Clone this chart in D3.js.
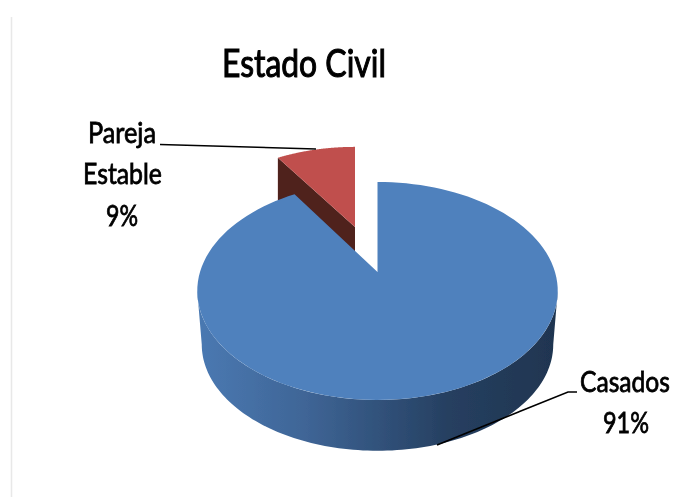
<!DOCTYPE html>
<html>
<head>
<meta charset="utf-8">
<script src="https://cdn.jsdelivr.net/npm/d3@7"></script>
<style>
    html, body { margin: 0; padding: 0; background: #fff; }
    svg { display: block; }
    text { font-family: Lato, "Liberation Sans", sans-serif; fill: #000; }
</style>
</head>
<body>
<div id="chart-container"></div>
<script>
const categories = ["Casados", "Pareja Estable"];
const values = [91, 9];
const percentLabels = ["91%", "9%"];
const colors = ["#4f81bd", "#c0504d"];
const sideColors = ["#1f3550", "#4f201e"];

const svgWidth = 674;
const svgHeight = 497;

const svg = d3.select("#chart-container")
    .append("svg")
    .attr("width", svgWidth)
    .attr("height", svgHeight);

const defs = svg.append("defs");

// the picture is a soft, scaled up screenshot
defs.append("filter").attr("id", "soft")
    .append("feGaussianBlur").attr("stdDeviation", 0.45);

const wallGradient = defs.append("linearGradient")
    .attr("id", "wall")
    .attr("gradientUnits", "userSpaceOnUse")
    .attr("x1", 198).attr("x2", 558).attr("y1", 0).attr("y2", 0);
[
    [0, "#4a79b2"],
    [0.3, "#3f6596"],
    [0.5, "#31527b"],
    [0.7, "#263f60"],
    [1, "#1f3550"]
].forEach(s => wallGradient.append("stop").attr("offset", s[0]).attr("stop-color", s[1]));

// pie angles, clockwise from the top
const pie = d3.pie().sort(null).value(d => d).startAngle(0).endAngle(2 * Math.PI);
const slices = pie(values);

// perspective: the disc is seen from above, its centre is not the middle of the ellipse
const tilt = 0.174;
const radiusX = 177.5;
const radiusY = 105.7;

function project(angle, frame) {
    const w = 1 + tilt * Math.cos(angle);
    return [
        frame.x + frame.sx * radiusX * Math.sin(angle) / w,
        frame.y - frame.sy * radiusY * Math.cos(angle) / w
    ];
}

function rim(a0, a1, frame) {
    const n = 120;
    return d3.range(n + 1).map(i => project(a0 + (a1 - a0) * i / n, frame));
}

const line = d3.line();

const blueTop = { x: 377.5, y: 272, sx: 1, sy: 1 };
const blueBottom = { x: 377.5, y: 326, sx: 0.975, sy: 0.975 };
const redTop = { x: 355, y: 227, sx: 0.93, sy: 0.89 };
const redBottom = { x: 355, y: 277, sx: 0.93, sy: 0.89 };

const chart = svg.append("g").attr("filter", "url(#soft)");

// faint edge of the original slide
chart.append("line")
    .attr("x1", 11.5).attr("x2", 11.5)
    .attr("y1", 17).attr("y2", svgHeight)
    .attr("stroke", "#e8e8e8")
    .attr("stroke-width", 1.5);

// pulled out slice: cut face first, then its top
const red = slices[1];
const redCorner = project(red.startAngle, redTop);
const redCornerLow = project(red.startAngle, redBottom);
chart.append("path")
    .attr("d", line([redCorner, [redTop.x, redTop.y], [redBottom.x, redBottom.y], redCornerLow]) + "Z")
    .attr("fill", sideColors[1]);
chart.append("path")
    .attr("d", line(rim(red.startAngle, red.endAngle, redTop).concat([[redTop.x, redTop.y]])) + "Z")
    .attr("fill", colors[1]);

// big slice: front wall between the two outermost rim points, then top
const wallStart = Math.acos(-tilt);
const wallEnd = 2 * Math.PI - wallStart;
const front = rim(wallStart, wallEnd, blueTop);
const frontLow = rim(wallStart, wallEnd, blueBottom).reverse();
chart.append("path")
    .attr("d", line(front.concat(frontLow)) + "Z")
    .attr("fill", "url(#wall)");

const blue = slices[0];
chart.append("path")
    .attr("d", line(rim(blue.startAngle, blue.endAngle, blueTop).concat([[blueTop.x, blueTop.y]])) + "Z")
    .attr("fill", colors[0]);

// leader lines
const leader = d3.line();
chart.append("path")
    .attr("d", leader([[160, 144.5], [316, 149]]))
    .attr("fill", "none").attr("stroke", "#000").attr("stroke-width", 1.6);
chart.append("path")
    .attr("d", leader([[577, 392], [568, 392], [437, 445]]))
    .attr("fill", "none").attr("stroke", "#000").attr("stroke-width", 1.6);

// texts
const pareja = categories[1].split(" ");
const labels = [
    { text: "Estado Civil", x: 222, y: 77, w: 164, size: 38, weight: 1.1 },
    { text: pareja[0], x: 88, y: 143, w: 68, size: 29, weight: 0.8 },
    { text: pareja[1], x: 83, y: 184, w: 79, size: 29, weight: 0.8 },
    { text: percentLabels[1], x: 106, y: 226, w: 32, size: 29, weight: 0.8 },
    { text: categories[0], x: 580, y: 392, w: 90, size: 29, weight: 0.8 },
    { text: percentLabels[0], x: 603, y: 433, w: 46, size: 29, weight: 0.8 }
];

// squeeze each text to the width it has in the picture (the original face is narrower)
chart.selectAll("text")
    .data(labels)
    .enter()
    .append("text")
    .attr("font-size", d => d.size)
    .attr("stroke", "#000")
    .attr("stroke-width", d => d.weight)
    .text(d => d.text)
    .attr("transform", function (d) {
        const box = this.getBBox();
        return `translate(${d.x - box.x * d.w / box.width},${d.y}) scale(${d.w / box.width},1)`;
    });
</script>
</body>
</html>
